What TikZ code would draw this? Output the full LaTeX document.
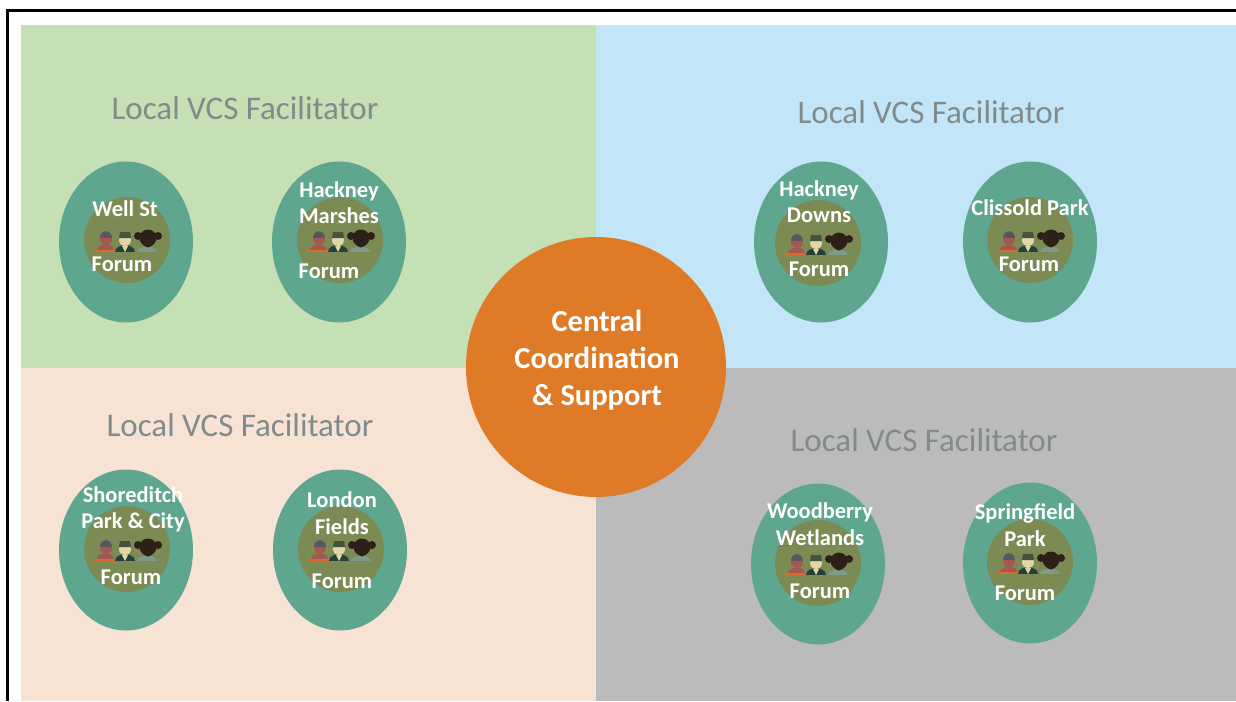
\documentclass[tikz,border=0pt]{standalone}
\usepackage{fontspec}
\setmainfont{Carlito}
\usetikzlibrary{shapes.geometric}
\definecolor{cgreen}{HTML}{C5E0B4}
\definecolor{cblue}{HTML}{C2E6F8}
\definecolor{cpeach}{HTML}{F7E3D3}
\definecolor{cgrey}{HTML}{BCBBBB}
\definecolor{cteal}{HTML}{5FA68E}
\definecolor{colive}{HTML}{7C8A54}
\definecolor{corange}{HTML}{DF7A26}
\definecolor{ctitle}{HTML}{828B8B}
\definecolor{pskin}{HTML}{A5584F}
\definecolor{phair}{HTML}{5A5560}
\definecolor{pline}{HTML}{E0682A}
\definecolor{pdark}{HTML}{24403A}
\definecolor{pface}{HTML}{E2D6A8}
\definecolor{pcap}{HTML}{46523C}
\definecolor{pblack}{HTML}{2E2018}
\definecolor{pbody}{HTML}{7F9A8A}
\tikzset{
  x=1pt,y=-1pt,
  panel/.style={fill=#1,draw=none},
  outerdisc/.style={ellipse,fill=cteal,draw=none,minimum width=134pt,minimum height=161pt,inner sep=0pt},
  innerdisc/.style={circle,fill=colive,draw=none,minimum size=86pt,inner sep=0pt},
  heading/.style={text=ctitle,font=\fontsize{33}{36}\selectfont,inner sep=0pt},
  forumtext/.style={text=white,font=\bfseries\fontsize{22.5}{26.5}\selectfont,align=center,inner sep=0pt},
  centertext/.style={text=white,font=\bfseries\fontsize{30.5}{37}\selectfont,align=center,inner sep=0pt},
}
\newcommand{\people}[2]{%
  \begin{scope}[shift={(#1,#2)}]
    % left person
    \fill[pskin] (-30,10) .. controls (-30,3) and (-13,3) .. (-13,10) -- cycle;
    \fill[pskin] (-21,-1) circle (6);
    \fill[phair] (-27,-2) .. controls (-27,-11) and (-15,-11) .. (-15,-2) -- cycle;
    \fill[pline] (-33,9.5) rectangle (-11,11.5);
    % middle person
    \fill[pdark] (-12,12) .. controls (-12,3) and (8,3) .. (8,12) -- cycle;
    \fill[pface] (-5,6) -- (1,6) -- (-2,12) -- cycle;
    \fill[pface] (-2,0) circle (6);
    \fill[pcap] (-8,-2) -- (-7,-8) -- (3,-8) -- (4,-2) -- cycle;
    % right person
    \fill[pbody] (10,12) .. controls (10,5) and (30,5) .. (30,12) -- cycle;
    \fill[pblack] (11,-4) circle (4);
    \fill[pblack] (31,-4) circle (4);
    \fill[pblack] (21,-2) circle (8.5);
    \fill[pblack] (21,2) circle (5.5);
  \end{scope}}
\begin{document}
\begin{tikzpicture}
\useasboundingbox (0,0) rectangle (1236,701);
\fill[white] (0,0) rectangle (1236,701);
\draw[line width=3pt] (7.5,701) -- (7.5,10.5) -- (1236,10.5);
\fill[panel=cgreen] (21,25) rectangle (596,368);
\fill[panel=cblue] (596,25) rectangle (1236,368);
\fill[panel=cpeach] (21,368) rectangle (596,701);
\fill[panel=cgrey] (596,368) rectangle (1236,701);

\node[heading] (h1) at (245,108) {Local VCS Facilitator};
\node[heading] (h2) at (931,112) {Local VCS Facilitator};
\node[heading] (h3) at (240,425) {Local VCS Facilitator};
\node[heading] (h4) at (924,440) {Local VCS Facilitator};

% Well St
\node[outerdisc] (a1) at (126,242) {};
\node[innerdisc] (a1i) at (127,240) {};
\people{127}{240}
\node[forumtext] (a1t) at (125,209) {Well St};
\node[forumtext] (a1f) at (122,264) {Forum};
% Hackney Marshes
\node[outerdisc] (a2) at (339,242) {};
\node[innerdisc] (a2i) at (340,240) {};
\people{340}{240}
\node[forumtext] (a2t) at (339,202.5) {Hackney\\Marshes};
\node[forumtext] (a2f) at (329,271) {Forum};
% Hackney Downs
\node[outerdisc] (b1) at (821,242) {};
\node[innerdisc] (b1i) at (818,243) {};
\people{818}{243}
\node[forumtext] (b1t) at (819,201.5) {Hackney\\Downs};
\node[forumtext] (b1f) at (819,269) {Forum};
% Clissold Park
\node[outerdisc] (b2) at (1030,242) {};
\node[innerdisc] (b2i) at (1030,240) {};
\people{1030}{240}
\node[forumtext] (b2t) at (1030,208) {Clissold Park};
\node[forumtext] (b2f) at (1029,264) {Forum};
% Shoreditch
\node[outerdisc] (c1) at (126,550) {};
\node[innerdisc] (c1i) at (127,549) {};
\people{127}{549}
\node[forumtext] (c1t) at (133,509.5) {Shoreditch\\Park \& City};
\node[forumtext] (c1f) at (131,577) {Forum};
% London Fields
\node[outerdisc] (c2) at (340,550) {};
\node[innerdisc] (c2i) at (341,549) {};
\people{341}{549}
\node[forumtext] (c2t) at (342,513) {London\\Fields};
\node[forumtext] (c2f) at (342,581) {Forum};
% Woodberry Wetlands
\node[outerdisc] (d1) at (818,564) {};
\node[innerdisc] (d1i) at (818,563) {};
\people{818}{563}
\node[forumtext] (d1t) at (820,524) {Woodberry\\Wetlands};
\node[forumtext] (d1f) at (820,591) {Forum};
% Springfield Park
\node[outerdisc] (d2) at (1030,563) {};
\node[innerdisc] (d2i) at (1030,562) {};
\people{1030}{562}
\node[forumtext] (d2t) at (1025,525) {Springfield\\Park};
\node[forumtext] (d2f) at (1025,593) {Forum};

\node[circle,fill=corange,draw=none,minimum size=260pt,inner sep=0pt] (hub) at (596,367) {};
\node[centertext] (hubt) at (597,360) {Central\\Coordination\\\& Support};
\end{tikzpicture}
\end{document}
